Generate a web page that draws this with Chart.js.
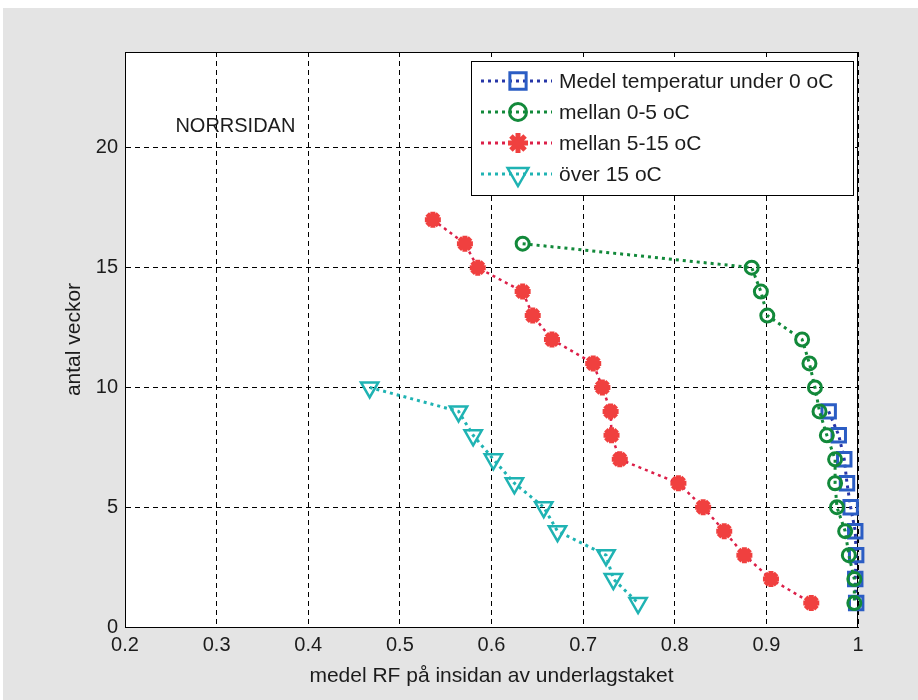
<!DOCTYPE html>
<html>
<head>
<meta charset="utf-8">
<script src="https://cdn.jsdelivr.net/npm/chart.js@4"></script>
<style>
html, body { margin: 0; padding: 0; background: #fff; }
#wrap { width: 918px; height: 700px; }
</style>
</head>
<body>
<div id="wrap"><canvas id="rfChart" width="918" height="700"></canvas></div>
<script>
// Antal veckor (y) mot medel RF (x), norrsidan
const weeksUnder0 = [9, 8, 7, 6, 5, 4, 3, 2, 1];
const rfUnder0 = [0.968, 0.979, 0.985, 0.988, 0.992, 0.997, 0.998, 0.997, 0.998];

const weeks0to5 = [16, 15, 14, 13, 12, 11, 10, 9, 8, 7, 6, 5, 4, 3, 2, 1];
const rf0to5 = [0.634, 0.884, 0.894, 0.901, 0.939, 0.947, 0.953, 0.958, 0.966, 0.975, 0.975, 0.977, 0.986, 0.990, 0.996, 0.996];

const weeks5to15 = [17, 16, 15, 14, 13, 12, 11, 10, 9, 8, 7, 6, 5, 4, 3, 2, 1];
const rf5to15 = [0.536, 0.571, 0.585, 0.634, 0.645, 0.666, 0.711, 0.721, 0.730, 0.731, 0.740, 0.804, 0.831, 0.854, 0.876, 0.905, 0.949];

const weeksOver15 = [10, 9, 8, 7, 6, 5, 4, 3, 2, 1];
const rfOver15 = [0.467, 0.564, 0.580, 0.602, 0.625, 0.657, 0.672, 0.725, 0.733, 0.760];

const seriesLabels = ['Medel temperatur under 0 oC', 'mellan 0-5 oC', 'mellan 5-15 oC', 'över 15 oC'];
const xTicks = [0.2, 0.3, 0.4, 0.5, 0.6, 0.7, 0.8, 0.9, 1];
const yTicks = [0, 5, 10, 15, 20];

const FONT = "'Liberation Sans', Arial, sans-serif";
const TEXT = '#1c1c1c';

function toPoints(xs, ys) {
    return xs.map((x, i) => ({ x: x, y: ys[i] }));
}

// gray figure background with a white axes box
const backgroundPlugin = {
    id: 'figureBackground',
    beforeDraw(chart) {
        const ctx = chart.ctx;
        const a = chart.chartArea;
        ctx.save();
        ctx.fillStyle = '#ffffff';
        ctx.fillRect(0, 0, chart.width, chart.height);
        ctx.fillStyle = '#e4e4e4';
        ctx.fillRect(3, 8, chart.width - 3, chart.height - 8);
        ctx.fillStyle = '#ffffff';
        ctx.fillRect(a.left, a.top, a.right - a.left, a.bottom - a.top);
        ctx.restore();
    },
    beforeDatasetsDraw(chart) {
        // full box round the axes, like matlab
        const ctx = chart.ctx;
        const a = chart.chartArea;
        ctx.save();
        ctx.strokeStyle = '#000000';
        ctx.lineWidth = 1;
        ctx.strokeRect(a.left + 0.5, a.top + 0.5, a.right - a.left - 1, a.bottom - a.top);
        ctx.fillStyle = TEXT;
        ctx.font = '20px ' + FONT;
        ctx.textAlign = 'left';
        ctx.textBaseline = 'middle';
        const sx = chart.scales.x, sy = chart.scales.y;
        ctx.fillText('NORRSIDAN', sx.getPixelForValue(0.255), sy.getPixelForValue(20.9));
        ctx.restore();
    }
};

function drawMarker(ctx, ds, x, y, grow) {
    const opts = {
        pointStyle: ds.pointStyle,
        radius: ds.pointRadius + grow,
        rotation: ds.pointRotation || 0,
        borderWidth: ds.pointBorderWidth
    };
    ctx.save();
    ctx.strokeStyle = ds.pointBorderColor;
    ctx.fillStyle = ds.pointBackgroundColor;
    ctx.lineWidth = ds.pointBorderWidth;
    ctx.setLineDash([]);
    if (Chart.helpers && Chart.helpers.drawPoint) {
        Chart.helpers.drawPoint(ctx, opts, x, y);
    } else {
        ctx.beginPath();
        ctx.arc(x, y, opts.radius, 0, Math.PI * 2);
        ctx.stroke();
    }
    ctx.restore();
}

// legend box inside the axes, top right
const legendPlugin = {
    id: 'boxLegend',
    afterDraw(chart) {
        const ctx = chart.ctx;
        const boxL = 471, boxT = 61, boxR = 853, boxB = 195;
        ctx.save();
        ctx.fillStyle = '#ffffff';
        ctx.fillRect(boxL, boxT, boxR - boxL, boxB - boxT);
        ctx.strokeStyle = '#000000';
        ctx.lineWidth = 1;
        ctx.strokeRect(boxL + 0.5, boxT + 0.5, boxR - boxL, boxB - boxT);
        chart.data.datasets.forEach((ds, i) => {
            const y = 81 + i * 31;
            ctx.save();
            ctx.strokeStyle = ds.borderColor;
            ctx.lineWidth = 3;
            ctx.setLineDash([3, 4]);
            ctx.beginPath();
            ctx.moveTo(481, y);
            ctx.lineTo(552, y);
            ctx.stroke();
            ctx.restore();
            drawMarker(ctx, ds, 518, y, 2);
            ctx.fillStyle = TEXT;
            ctx.font = '21px ' + FONT;
            ctx.textAlign = 'left';
            ctx.textBaseline = 'middle';
            ctx.fillText(ds.label, 559, y + 1);
        });
        ctx.restore();
    }
};

const ctx = document.getElementById('rfChart').getContext('2d');

const rfChart = new Chart(ctx, {
    type: 'line',
    data: {
        datasets: [
            {
                label: seriesLabels[0],
                data: toPoints(rfUnder0, weeksUnder0),
                borderColor: '#2636a8',
                borderWidth: 3,
                borderDash: [3, 4],
                pointStyle: 'rect',
                pointRadius: 9.5,
                pointBorderWidth: 3,
                pointBorderColor: '#2b5dc4',
                pointBackgroundColor: 'rgba(255,255,255,0)',
                order: 4
            },
            {
                label: seriesLabels[1],
                data: toPoints(rf0to5, weeks0to5),
                borderColor: '#12893a',
                borderWidth: 3,
                borderDash: [3, 4],
                pointStyle: 'circle',
                pointRadius: 6.5,
                pointBorderWidth: 3,
                pointBorderColor: '#12893a',
                pointBackgroundColor: 'rgba(255,255,255,0)',
                order: 3
            },
            {
                label: seriesLabels[2],
                data: toPoints(rf5to15, weeks5to15),
                borderColor: '#dc1f48',
                borderWidth: 2.5,
                borderDash: [3, 4],
                pointStyle: 'star',
                pointRadius: 8,
                pointBorderWidth: 5,
                pointBorderColor: '#f0403f',
                pointBackgroundColor: '#f0403f',
                order: 2
            },
            {
                label: seriesLabels[3],
                data: toPoints(rfOver15, weeksOver15),
                borderColor: '#1fb3b3',
                borderWidth: 3,
                borderDash: [3, 4],
                pointStyle: 'triangle',
                pointRotation: 180,
                pointRadius: 10,
                pointBorderWidth: 2.5,
                pointBorderColor: '#1fb3b3',
                pointBackgroundColor: 'rgba(255,255,255,0)',
                order: 1
            }
        ]
    },
    options: {
        responsive: false,
        animation: false,
        clip: false,
        layout: {
            padding: { top: 52, right: 60, left: 0, bottom: 0 }
        },
        plugins: {
            legend: { display: false },
            tooltip: { enabled: false }
        },
        scales: {
            x: {
                type: 'linear',
                min: 0.2,
                max: 1,
                afterFit: function(scale) { scale.height = 73; },
                afterBuildTicks: function(scale) {
                    scale.ticks = xTicks.map(v => ({ value: v }));
                },
                ticks: {
                    autoSkip: false,
                    maxRotation: 0,
                    padding: 6,
                    color: TEXT,
                    font: { size: 20, family: FONT },
                    callback: function(value) {
                        return String(Math.round(value * 10) / 10);
                    }
                },
                grid: {
                    color: '#000000',
                    lineWidth: 1,
                    drawTicks: false
                },
                border: { color: '#000000', width: 1, dash: [5, 4] },
                title: {
                    display: true,
                    text: 'medel RF på insidan av underlagstaket',
                    color: TEXT,
                    font: { size: 21, family: FONT },
                    padding: { top: 0, bottom: 11 }
                }
            },
            y: {
                type: 'linear',
                min: 0,
                max: 24,
                afterFit: function(scale) { scale.width = 125; },
                afterBuildTicks: function(scale) {
                    scale.ticks = yTicks.map(v => ({ value: v }));
                },
                ticks: {
                    padding: 7,
                    color: TEXT,
                    font: { size: 20, family: FONT }
                },
                grid: {
                    color: '#000000',
                    lineWidth: 1,
                    drawTicks: false
                },
                border: { color: '#000000', width: 1, dash: [5, 4] },
                title: {
                    display: true,
                    text: 'antal veckor',
                    color: TEXT,
                    font: { size: 21, family: FONT },
                    padding: { top: 62, bottom: 0 }
                }
            }
        }
    },
    plugins: [backgroundPlugin, legendPlugin]
});
</script>
</body>
</html>
